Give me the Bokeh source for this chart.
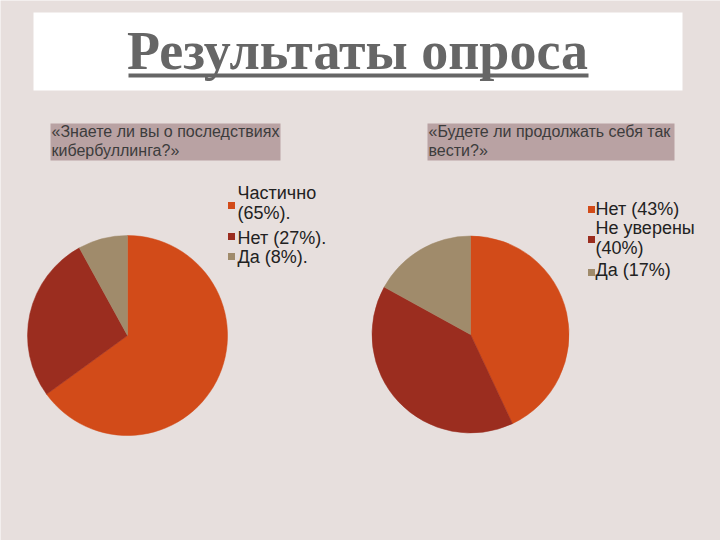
import math
from bokeh.plotting import figure
from bokeh.models import Range1d
from bokeh.core.properties import value
from bokeh.embed import file_html
from bokeh.resources import INLINE

# ---- data ----
title_text = "Результаты опроса"
q1_lines = ["«Знаете ли вы о последствиях", "кибербуллинга?»"]
q2_lines = ["«Будете ли продолжать себя так", "вести?»"]

q1_values = [65, 27, 8]
q1_legend = [["Частично", "(65%)."], ["Нет (27%)."], ["Да (8%)."]]
q2_values = [43, 40, 17]
q2_legend = [["Нет (43%)"], ["Не уверены", "(40%)"], ["Да (17%)"]]

colors = ["#d24b19", "#9b2d1f", "#a08b6b"]

W, H = 720, 540
BG = "#e7dfdd"
BOX = "#b9a2a3"
SANS = value("Liberation Sans")
SERIF = value("Liberation Serif")
BASE_SHIFT = 0.38  # correction of the svg alphabetic baseline, in em


def Y(y):
    return H - y


def TB(y, fs):
    # screen baseline -> drawing coordinate
    return H - (y - BASE_SHIFT * fs)


p = figure(width=W, height=H, x_range=Range1d(0, W), y_range=Range1d(0, H),
           output_backend="svg", toolbar_location=None, min_border=0)
p.axis.visible = False
p.grid.visible = False
p.outline_line_color = None
p.background_fill_color = BG
p.border_fill_color = BG

# title box
p.quad(left=[33], right=[682], top=[Y(12)], bottom=[Y(90)], fill_color="white", line_color=None)
p.text(x=[357], y=[TB(71, 54)], text=[title_text], text_font=SERIF, text_font_style="bold",
       text_font_size="54px", text_color="#666666", text_align="center", text_baseline="alphabetic")
p.quad(left=[128], right=[588], top=[Y(73)], bottom=[Y(77)], fill_color="#666666", line_color=None)

# question boxes
for (x0, x1, lines) in [(50, 280, q1_lines), (427, 674, q2_lines)]:
    p.quad(left=[x0], right=[x1], top=[Y(123)], bottom=[Y(160)], fill_color=BOX, line_color=None)
    p.text(x=[x0 + 1] * len(lines), y=[TB(137, 16), TB(156, 16)][:len(lines)], text=lines,
           text_font=SANS, text_font_size="16px", text_color="#3c3c3c", text_baseline="alphabetic")


def pie(cx, cy, r, vals):
    tot = float(sum(vals))
    cum = 0.0
    starts, ends = [], []
    for v in vals:
        starts.append(math.pi / 2 - 2 * math.pi * cum / tot)
        cum += v
        ends.append(math.pi / 2 - 2 * math.pi * cum / tot)
    p.wedge(x=[cx] * len(vals), y=[Y(cy)] * len(vals), radius=r, radius_units="screen",
            start_angle=starts, end_angle=ends, direction="clock",
            fill_color=colors[:len(vals)], line_color=colors[:len(vals)], line_width=0.5)


pie(127, 335, 100, q1_values)
pie(470, 334, 98.5, q2_values)


def legend(sx, tx, baselines, square_ys, entries, fs=18):
    i = 0
    xs, ys, ts = [], [], []
    for k, lines in enumerate(entries):
        for ln in lines:
            xs.append(tx)
            ys.append(TB(baselines[i], fs))
            ts.append(ln)
            i += 1
    p.text(x=xs, y=ys, text=ts, text_font=SANS, text_font_size=f"{fs}px",
           text_color="#222222", text_baseline="alphabetic")
    p.scatter(x=[sx] * len(square_ys), y=[Y(v) for v in square_ys], marker="square",
              size=7, fill_color=colors, line_color=None)


legend(231, 237, [199, 219, 244, 263], [205, 236, 256], q1_legend)
legend(591, 595, [215, 234, 254, 276], [209, 239, 272], q2_legend)

open("out.html", "w").write(file_html(p, INLINE))
